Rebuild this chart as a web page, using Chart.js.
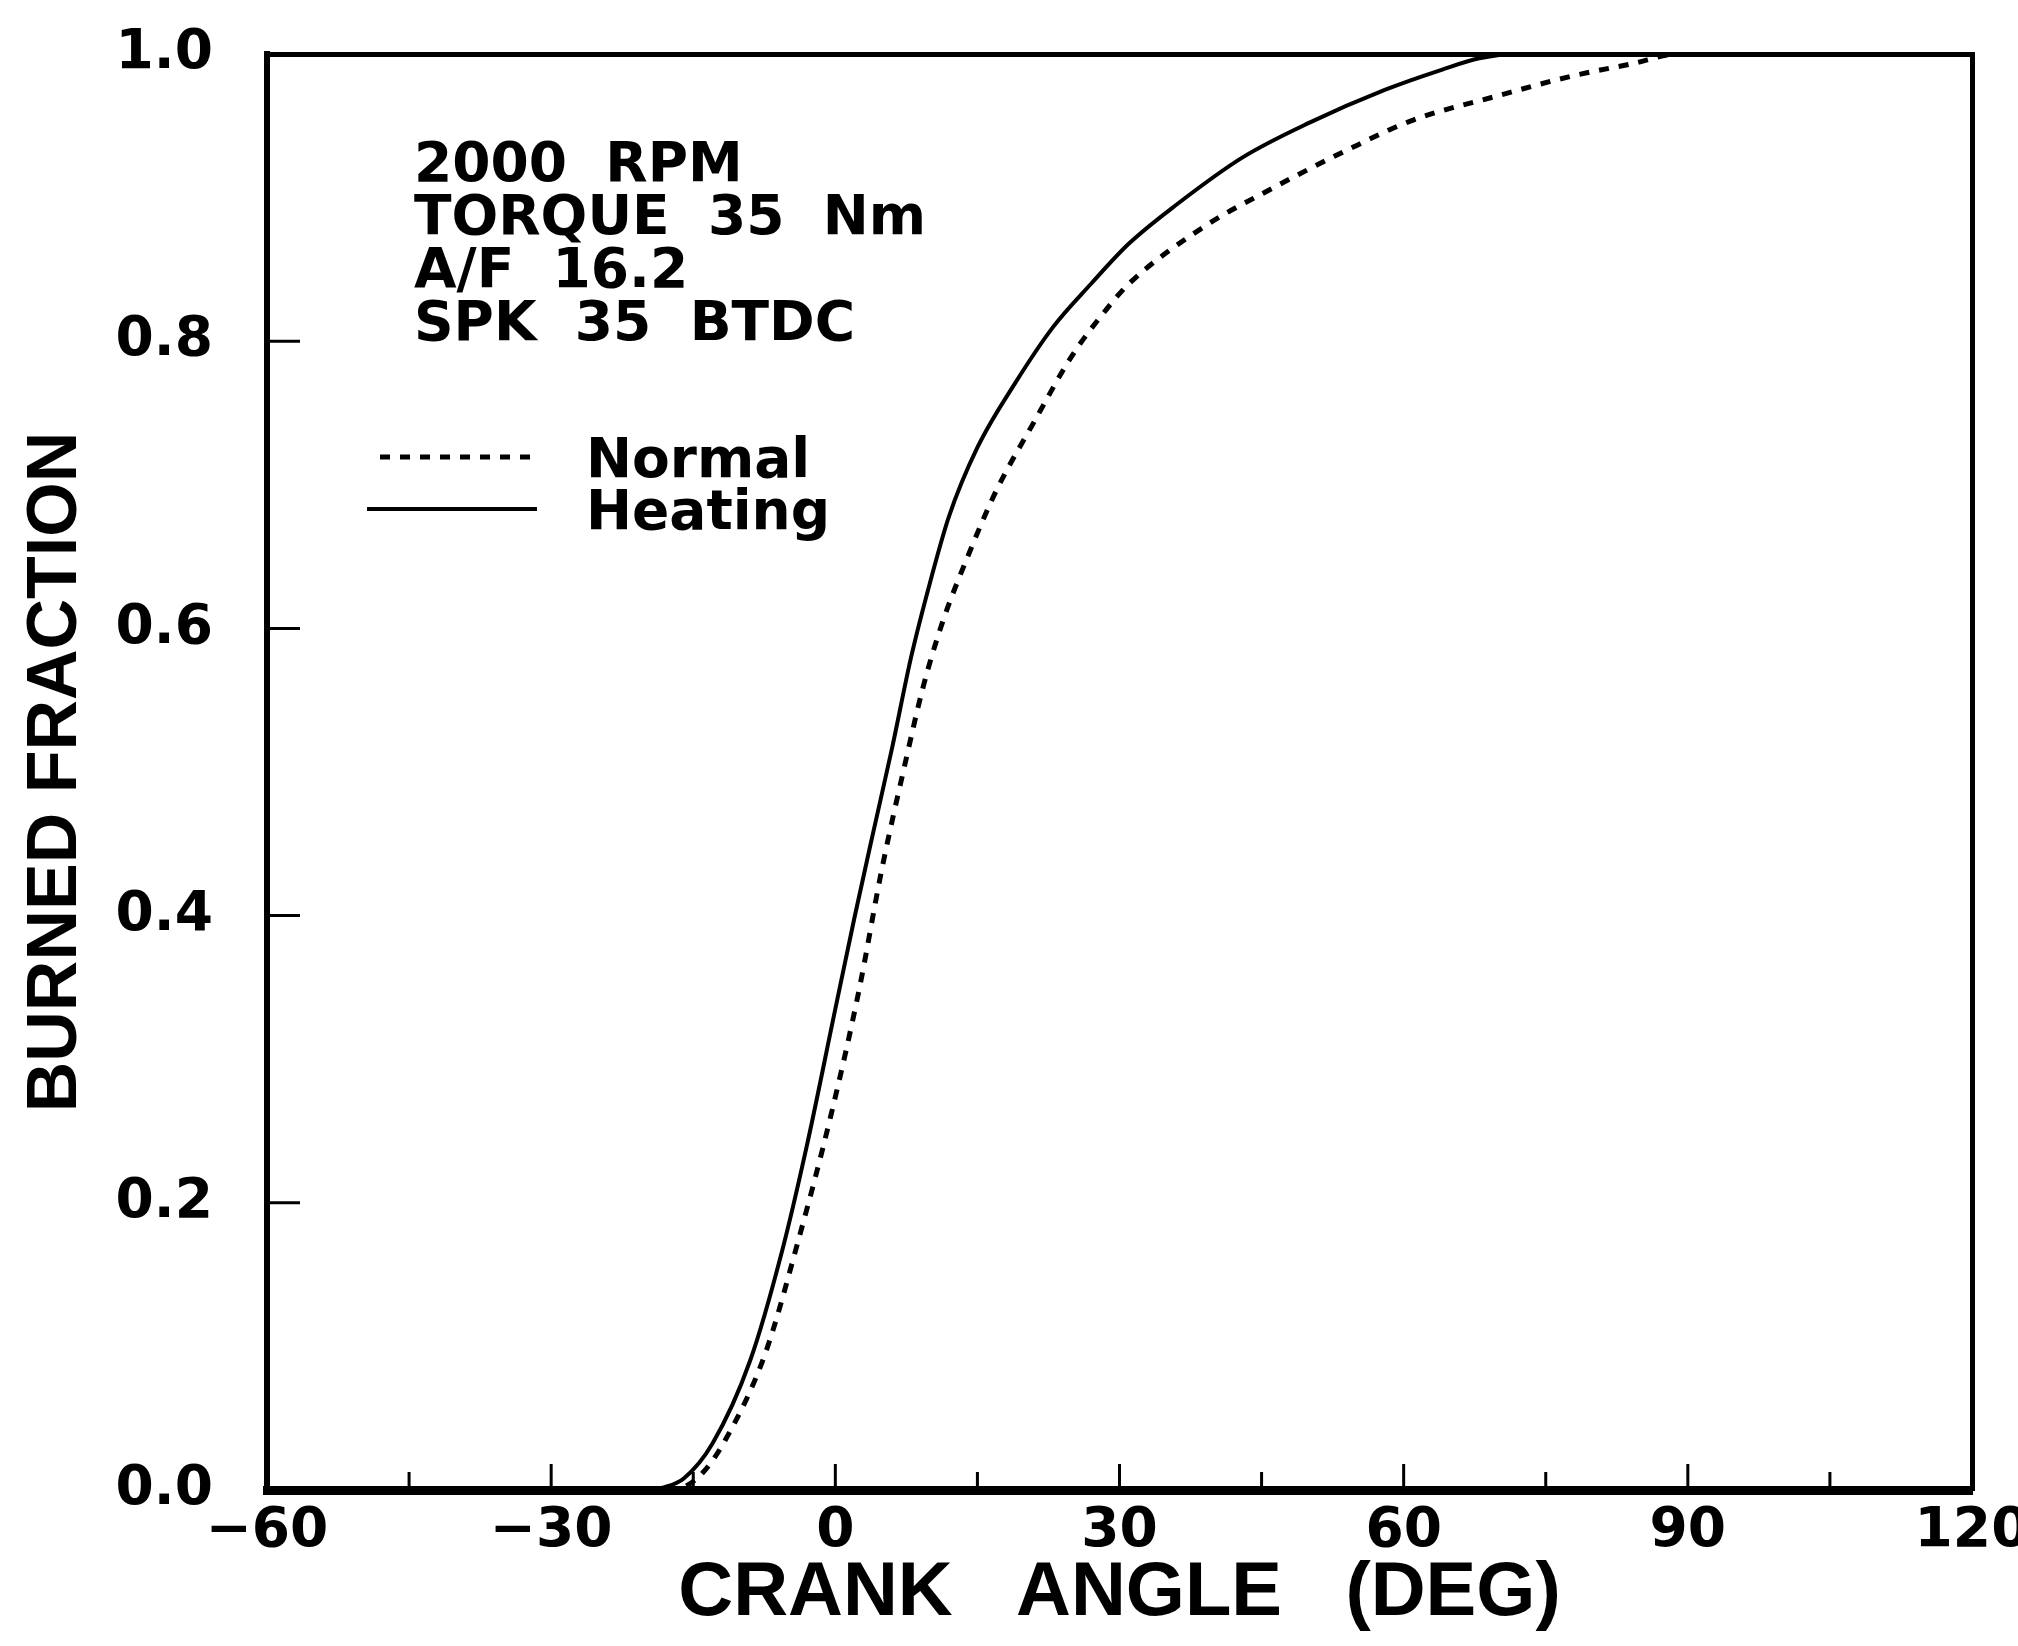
<!DOCTYPE html>
<html>
<head>
<meta charset="utf-8">
<title>Burned fraction vs crank angle</title>
<script src="https://cdn.jsdelivr.net/npm/chart.js@4.4.1/dist/chart.umd.min.js"></script>
<style>
  html, body { margin: 0; padding: 0; background: #fff; }
</style>
</head>
<body>
<canvas id="burnChart" width="2018" height="1646"></canvas>
<script>
/*
    BURNED FRACTION vs CRANK ANGLE
*/

// data
const heatingAngle = [-60, -20, -18, -16, -13, -9, -5.6, -3, 0, 2, 4, 6, 8, 10, 12, 15, 19, 23, 27, 31, 36, 43, 50, 58, 64, 68, 72, 120];
const heatingFrac  = [0, 0, 0.002, 0.008, 0.032, 0.09, 0.167, 0.24, 0.335, 0.398, 0.458, 0.517, 0.58, 0.632, 0.678, 0.726, 0.771, 0.81, 0.84, 0.868, 0.895, 0.928, 0.952, 0.975, 0.989, 0.997, 1, 1];

const normalAngle = [-60, -18, -16, -14, -11.6, -7.4, -3.9, -0.5, 2.5, 4.9, 7.3, 9.3, 11.3, 14.1, 17, 21, 25, 28.6, 31, 39, 46, 54, 61, 70, 78, 84, 89, 120];
const normalFrac  = [0, 0, 0.002, 0.012, 0.035, 0.095, 0.174, 0.26, 0.348, 0.432, 0.504, 0.56, 0.604, 0.652, 0.696, 0.744, 0.79, 0.822, 0.84, 0.88, 0.906, 0.933, 0.954, 0.971, 0.985, 0.993, 1, 1];

const noteLines = ['2000  RPM', 'TORQUE  35  Nm', 'A/F  16.2', 'SPK  35  BTDC'];

const xTitle = 'CRANK   ANGLE   (DEG)';
const yTitle = 'BURNED FRACTION';

const tickFont = { family: "'DejaVu Sans', sans-serif", size: 55, weight: 'bold' };
const titleFamily = "'Liberation Sans', Arial, sans-serif";

function toPoints(xs, ys) {
    return xs.map((v, i) => ({ x: v, y: ys[i] }));
}

// small inward tick marks, like the plotter drew them
const innerTicks = {
    id: 'innerTicks',
    afterDatasetsDraw(chart) {
        const { ctx, chartArea: a, scales: { x, y } } = chart;
        ctx.save();
        ctx.strokeStyle = '#000';
        ctx.lineWidth = 3;
        ctx.beginPath();
        x.ticks.forEach(t => {
            if (t.value <= x.min || t.value >= x.max) return;
            const px = x.getPixelForValue(t.value);
            const len = t.value % 30 === 0 ? 26 : 18;
            ctx.moveTo(px, a.bottom);
            ctx.lineTo(px, a.bottom - len);
        });
        y.ticks.forEach(t => {
            if (t.value <= y.min || t.value >= y.max) return;
            const py = y.getPixelForValue(t.value);
            ctx.moveTo(a.left, py);
            ctx.lineTo(a.left + 33, py);
        });
        ctx.stroke();
        ctx.restore();
    }
};

// text block + hand made legend inside the plot
const noteBox = {
    id: 'noteBox',
    afterDraw(chart) {
        const ctx = chart.ctx;
        ctx.save();
        ctx.fillStyle = '#000';
        ctx.font = "bold 55px 'DejaVu Sans', sans-serif";
        ctx.textBaseline = 'alphabetic';
        noteLines.forEach((s, i) => ctx.fillText(s, 414, 181 + i * 53));

        const rows = [{ y: 457, x0: 380 }, { y: 509, x0: 367 }];
        chart.data.datasets.forEach((ds, i) => {
            const r = rows[i];
            ctx.strokeStyle = ds.borderColor;
            ctx.lineWidth = ds.borderWidth;
            ctx.setLineDash(ds.borderDash || []);
            ctx.beginPath();
            ctx.moveTo(r.x0, r.y);
            ctx.lineTo(537, r.y);
            ctx.stroke();
            ctx.setLineDash([]);
            ctx.fillText(ds.label, 586, r.y + 20);
        });
        ctx.restore();
    }
};

function plotBurnCurves(element) {
    const ctx = document.getElementById(element).getContext('2d');

    const myChart = new Chart(ctx, {
        type: 'line',
        data: {
            datasets: [{
                label: 'Normal',
                data: toPoints(normalAngle, normalFrac),
                borderColor: '#000',
                borderWidth: 5,
                borderDash: [10, 10],
                pointRadius: 0,
                cubicInterpolationMode: 'monotone',
                fill: false
            }, {
                label: 'Heating',
                data: toPoints(heatingAngle, heatingFrac),
                borderColor: '#000',
                borderWidth: 4,
                pointRadius: 0,
                cubicInterpolationMode: 'monotone',
                fill: false
            }]
        },
        options: {
            responsive: false,
            animation: false,
            layout: { padding: { top: 54, right: 46, left: 0, bottom: 0 } },
            scales: {
                x: {
                    type: 'linear',
                    position: 'bottom',
                    min: -60,
                    max: 120,
                    afterFit: s => { s.height = 156; s.paddingLeft = 0; s.paddingRight = 0; },
                    grid: { display: false, drawTicks: false },
                    border: { display: true, color: '#000', width: 9 },
                    ticks: {
                        stepSize: 15,
                        padding: 9,
                        color: '#000',
                        font: tickFont,
                        maxRotation: 0,
                        autoSkip: false,
                        callback: v => (v % 30 === 0 ? String(v).replace('-', '\u2212') : '')
                    },
                    title: {
                        display: true,
                        text: xTitle,
                        color: '#000',
                        font: { family: titleFamily, size: 76, weight: 'bold', lineHeight: 1.2 },
                        padding: { top: 0, bottom: 6 }
                    }
                },
                y: {
                    type: 'linear',
                    position: 'left',
                    min: 0,
                    max: 1,
                    afterFit: s => { s.width = 267; s.paddingTop = 0; s.paddingBottom = 0; },
                    grid: { display: false, drawTicks: false },
                    border: { display: true, color: '#000', width: 6 },
                    ticks: {
                        stepSize: 0.2,
                        padding: 54,
                        color: '#000',
                        font: tickFont,
                        callback: v => v.toFixed(1)
                    },
                    title: {
                        display: true,
                        text: yTitle,
                        color: '#000',
                        font: { family: titleFamily, size: 70, weight: 'bold', lineHeight: 1.2 },
                        padding: { top: 15, bottom: 0 }
                    }
                },
                xTop: {
                    type: 'linear',
                    position: 'top',
                    min: -60,
                    max: 120,
                    afterFit: s => { s.height = 0; },
                    grid: { display: false, drawTicks: false },
                    border: { display: true, color: '#000', width: 5 },
                    ticks: { display: false }
                },
                yRight: {
                    type: 'linear',
                    position: 'right',
                    min: 0,
                    max: 1,
                    afterFit: s => { s.width = 0; },
                    grid: { display: false, drawTicks: false },
                    border: { display: true, color: '#000', width: 5 },
                    ticks: { display: false }
                }
            },
            plugins: {
                legend: { display: false },
                tooltip: { enabled: false }
            }
        },
        plugins: [innerTicks, noteBox]
    });
    return myChart;
}

plotBurnCurves('burnChart');
</script>
</body>
</html>
